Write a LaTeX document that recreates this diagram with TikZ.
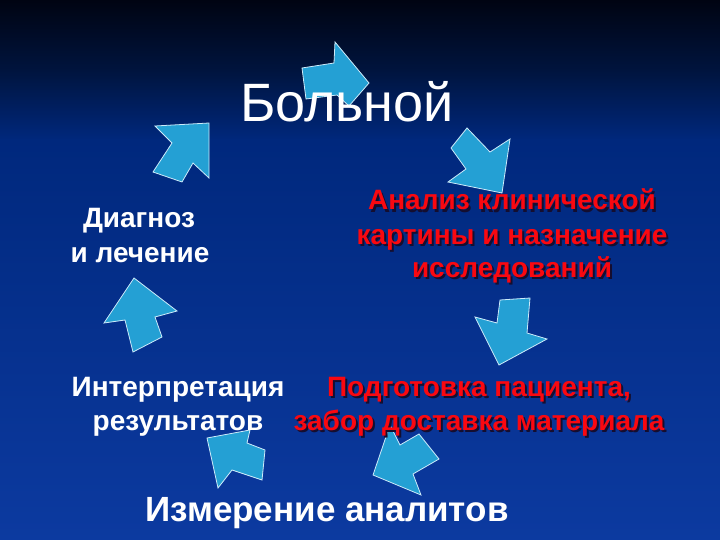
\documentclass[tikz,border=0pt]{standalone}
\usepackage{fontspec}
\setmainfont{Liberation Sans}
\definecolor{bgA}{RGB}{0,4,18}
\definecolor{bgB}{RGB}{0,20,62}
\definecolor{bgC}{RGB}{0,40,125}
\definecolor{bgD}{RGB}{12,58,160}
\definecolor{arrowfill}{RGB}{36,160,212}
\definecolor{arrowline}{RGB}{205,235,250}
\definecolor{redtxt}{RGB}{250,8,16}
\definecolor{shadowc}{RGB}{20,14,48}
\tikzset{
  blockarrow/.style={fill=arrowfill, draw=arrowline, line width=0.8pt, line join=miter},
  whitetxt/.style={text=white, anchor=base, inner sep=0pt, font=\fontsize{28}{34}\selectfont\bfseries},
  redtext/.style={text=redtxt, anchor=base, inner sep=0pt, font=\fontsize{28}{34}\selectfont\bfseries},
}
\newcommand\shadowed[1]{\leavevmode\rlap{\hspace{2pt}\raisebox{-2pt}{\textcolor{shadowc}{#1}}}#1}
\begin{document}
\begin{tikzpicture}[x=1pt,y=-1pt]
\useasboundingbox (0,0) rectangle (720,540);
% background
\shade[top color=bgA, bottom color=bgB] (0,0) rectangle (720,70.5);
\shade[top color=bgB, bottom color=bgC] (0,70) rectangle (720,140.5);
\shade[top color=bgC, bottom color=bgD] (0,140) rectangle (720,540);
% block arrows
\draw[blockarrow] (335,42) -- (369,83) -- (349,106) -- (337,95) -- (306,99) -- (302,68) -- (334,63) -- cycle;
\draw[blockarrow] (467,128) -- (490,152) -- (510,139) -- (502,193) -- (448,182) -- (466,169) -- (451,148) -- cycle;
\draw[blockarrow] (500,300) -- (530,298) -- (527,333) -- (547,339) -- (499,365) -- (475,317) -- (497,323) -- cycle;
\draw[blockarrow] (390,425) -- (400,445) -- (419,434) -- (439,459) -- (413,474) -- (421,495) -- (373,475) -- cycle;
\draw[blockarrow] (207,438) -- (250,430) -- (247,443) -- (265,450) -- (262,480) -- (232,470) -- (218,488) -- cycle;
\draw[blockarrow] (134,278) -- (177,311) -- (155,317) -- (162,337) -- (133,352) -- (125,320) -- (104,323) -- cycle;
\draw[blockarrow] (209,123) -- (209,178) -- (193,163) -- (182,182) -- (153,172) -- (172,143) -- (155,126) -- cycle;
% texts
\node[text=white, anchor=base, inner sep=0pt, font=\fontsize{54}{60}\selectfont] (patient) at (347,122) {Больной};
\node[whitetxt] (diag1) at (139,228) {Диагноз};
\node[whitetxt] (diag2) at (140,262) {и лечение};
\node[whitetxt] (interp1) at (178,396) {Интерпретация};
\node[whitetxt] (interp2) at (178,430) {результатов};
\node[redtext] (anal1) at (512,210) {\shadowed{Анализ клинической}};
\node[redtext] (anal2) at (512,244) {\shadowed{картины и назначение}};
\node[redtext] (anal3) at (512,277) {\shadowed{исследований}};
\node[redtext] (prep1) at (479,396) {\shadowed{Подготовка пациента,}};
\node[redtext] (prep2) at (479,430) {\shadowed{забор доставка материала}};
\node[text=white, anchor=base, inner sep=0pt, font=\fontsize{35}{40}\selectfont\bfseries] (measure) at (327,521) {Измерение аналитов};
\end{tikzpicture}
\end{document}
